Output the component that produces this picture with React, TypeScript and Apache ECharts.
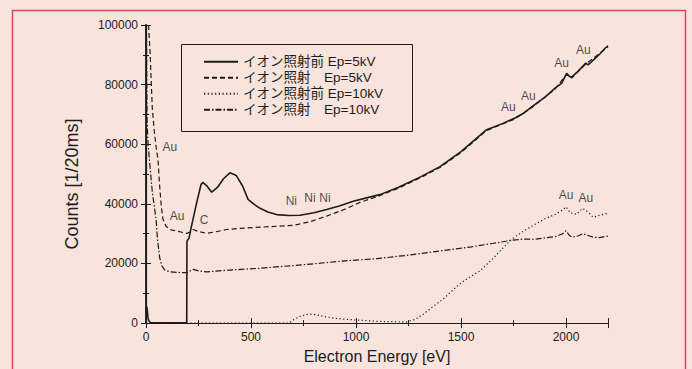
import React, { useEffect, useRef } from "react";
import * as echarts from "echarts";

const seriesNames = [
  "イオン照射前 Ep=5kV",
  "イオン照射　Ep=5kV",
  "イオン照射前 Ep=10kV",
  "イオン照射　Ep=10kV",
];

const before5E = [0, 3, 6, 10, 15, 22, 40, 100, 150, 194, 195, 205, 212, 240, 262, 270, 290, 313, 340, 370, 400, 430, 460, 486, 515, 543, 580, 622, 680, 733, 800, 860, 920, 987, 1050, 1114, 1200, 1300, 1400, 1500, 1622, 1700, 1757, 1800, 1843, 1900, 1948, 1980, 2003, 2015, 2027, 2050, 2075, 2094, 2105, 2130, 2160, 2186, 2200];
const before5C = [3000, 5500, 4500, 1500, 600, 200, 100, 100, 100, 100, 27500, 28500, 31000, 40000, 46500, 47200, 46000, 43900, 45500, 48500, 50400, 49500, 46000, 41500, 39800, 38500, 37300, 36400, 36100, 36200, 37000, 38100, 39300, 40900, 42000, 43100, 45500, 48800, 52500, 57500, 64900, 67000, 68800, 70500, 72900, 75800, 78800, 80500, 83800, 82800, 82500, 84000, 85800, 87200, 86600, 88200, 90200, 92200, 93000];

const after5E = [12, 20, 30, 40, 50, 57, 65, 73, 81, 95, 114, 150, 194, 210, 225, 250, 289, 330, 384, 450, 550, 702, 780, 860, 940, 1019, 1100, 1200, 1300, 1400, 1500, 1622, 1757, 1843, 1948, 2003, 2027, 2094, 2186, 2200];
const after5C = [100000, 90000, 72000, 64000, 58000, 55000, 46000, 39000, 34800, 32500, 31400, 30800, 30100, 30500, 31400, 30700, 30100, 30600, 31400, 31800, 32200, 32800, 34000, 35900, 38000, 40500, 42400, 45200, 48500, 52200, 57200, 64600, 68500, 72600, 78500, 83500, 82200, 86900, 91900, 92700];

const before10E = [0, 680, 700, 730, 760, 781, 810, 850, 900, 950, 986, 1050, 1100, 1150, 1200, 1241, 1280, 1320, 1360, 1414, 1460, 1500, 1550, 1590, 1650, 1700, 1741, 1800, 1850, 1900, 1950, 1985, 2000, 2020, 2050, 2080, 2100, 2130, 2160, 2200];
const before10C = [0, 0, 1000, 2200, 2800, 3000, 2800, 2200, 1600, 1300, 1100, 800, 600, 500, 450, 430, 1200, 3000, 5200, 8000, 11000, 13500, 15800, 17500, 21500, 25200, 28100, 31000, 33000, 35000, 36500, 38000, 39000, 37000, 36500, 38500, 37500, 35500, 36200, 36800];

const after10E = [2, 5, 10, 19, 30, 48, 55, 65, 75, 90, 114, 150, 194, 210, 225, 250, 289, 400, 543, 700, 829, 950, 1098, 1250, 1400, 1550, 1650, 1741, 1800, 1850, 1900, 1950, 1985, 2000, 2015, 2030, 2060, 2080, 2100, 2130, 2160, 2200];
const after10C = [100000, 68200, 60000, 52600, 44000, 34800, 28000, 22000, 19200, 17800, 17200, 17000, 16900, 17500, 18000, 17500, 17200, 17800, 18400, 19300, 20100, 20900, 21600, 22800, 24200, 25600, 26700, 27800, 28200, 28100, 28600, 29000, 30000, 31000, 29500, 28800, 29300, 30000, 29500, 28800, 28700, 29200];

const annLabels = ["Au", "Au", "C", "Ni", "Ni", "Ni", "Au", "Au", "Au", "Au", "Au", "Au"];
const annE = [114, 148, 276, 692, 781, 852, 1726, 1821, 1979, 2083, 2000, 2095];
const annC = [59200, 35900, 34500, 40800, 41900, 41900, 72500, 76300, 87400, 91600, 43000, 42000];

const xTicks = { min: 0, max: 2200, interval: 500 };
const yTicks = { min: 0, max: 100000, interval: 20000 };

const INK = "#1c1c1c";
const BG = "#f8e4dc";
const LATIN = "'Liberation Sans', Arial, sans-serif";
const CJK = "'Liberation Sans', 'Noto Sans CJK JP', sans-serif";

function pairs(xs: number[], ys: number[]) {
  return xs.map((x, i) => [x, ys[i]]);
}

export default function App() {
  const ref = useRef<HTMLDivElement>(null);
  useEffect(() => {
    if (!ref.current) return;
    const chart = echarts.init(ref.current, null, { renderer: "svg" });
    const axisCommon = {
      type: "value" as const,
      axisLine: { show: true, lineStyle: { color: INK, width: 1.2 } },
      axisTick: { show: true, inside: true, length: 5, lineStyle: { color: INK } },
      minorTick: { show: true, splitNumber: 2, length: 3, lineStyle: { color: INK } },
      splitLine: { show: false },
    };
    const lineSeries = (name: string, data: number[][], type: any, width: number) => ({
      name,
      type: "line",
      data,
      symbol: "none",
      showSymbol: false,
      xAxisIndex: 0,
      yAxisIndex: 0,
      lineStyle: { color: INK, width, type },
      itemStyle: { color: INK },
      clip: true,
      z: 2,
    });
    chart.setOption({
      animation: false,
      backgroundColor: BG,
      grid: { left: 146, right: 84, top: 25, bottom: 45, containLabel: false },
      xAxis: [
        {
          ...axisCommon,
          position: "bottom",
          ...xTicks,
          name: "Electron Energy [eV]",
          nameLocation: "middle",
          nameGap: 23,
          nameTextStyle: { color: INK, fontSize: 16, fontFamily: LATIN },
          axisLabel: {
            color: INK,
            fontSize: 12,
            fontFamily: LATIN,
            margin: 8,
            showMaxLabel: false,
            formatter: (v: number) => String(v),
          },
        },
        {
          ...axisCommon,
          position: "top",
          ...xTicks,
          axisLabel: { show: false },
        },
      ],
      yAxis: [
        {
          ...axisCommon,
          position: "left",
          ...yTicks,
          axisLine: { show: true, lineStyle: { color: INK, width: 1.8 } },
          axisLabel: {
            color: INK,
            fontSize: 12,
            fontFamily: LATIN,
            margin: 8,
            formatter: (v: number) => String(v),
          },
        },
        {
          ...axisCommon,
          position: "right",
          ...yTicks,
          axisLabel: { show: false },
        },
      ],
      legend: {
        data: seriesNames,
        orient: "vertical",
        left: 203,
        top: 55,
        itemWidth: 34,
        itemHeight: 14,
        itemGap: 2.5,
        padding: 0,
        itemStyle: { opacity: 0 },
        textStyle: { color: INK, fontSize: 13.5, fontFamily: CJK },
      },
      graphic: [
        {
          type: "rect",
          shape: { x: 181.5, y: 44.5, width: 231, height: 87 },
          style: { fill: "transparent", stroke: INK, lineWidth: 1 },
          z: 10,
        },
        {
          type: "rect",
          shape: { x: 12.5, y: 10.5, width: 673, height: 420 },
          style: { fill: "transparent", stroke: "#d9485a", lineWidth: 1.5 },
          z: 10,
        },
        {
          type: "text",
          x: 72,
          y: 184,
          rotation: Math.PI / 2,
          style: {
            text: "Counts [1/20ms]",
            fill: INK,
            fontSize: 18,
            fontFamily: LATIN,
            align: "center",
            verticalAlign: "middle",
          },
          z: 10,
        },
      ],
      series: [
        lineSeries(seriesNames[0], pairs(before5E, before5C), "solid", 1.6),
        lineSeries(seriesNames[1], pairs(after5E, after5C), [5, 3], 1.2),
        lineSeries(seriesNames[2], pairs(before10E, before10C), [1.2, 2.5], 1.2),
        lineSeries(seriesNames[3], pairs(after10E, after10C), [6, 2, 1.5, 2], 1.2),
        {
          name: "annotations",
          type: "scatter",
          symbolSize: 0,
          data: annLabels.map((t, i) => ({ name: t, value: [annE[i], annC[i]] })),
          label: {
            show: true,
            position: "inside",
            formatter: (p: any) => p.name,
            color: INK,
            fontSize: 12,
            fontFamily: LATIN,
          },
          z: 5,
          silent: true,
        },
      ],
    });
    return () => chart.dispose();
  }, []);
  return (
    <div
      ref={ref}
      style={{ position: "fixed", left: 0, top: 0, width: 692, height: 369, background: BG }}
    />
  );
}
